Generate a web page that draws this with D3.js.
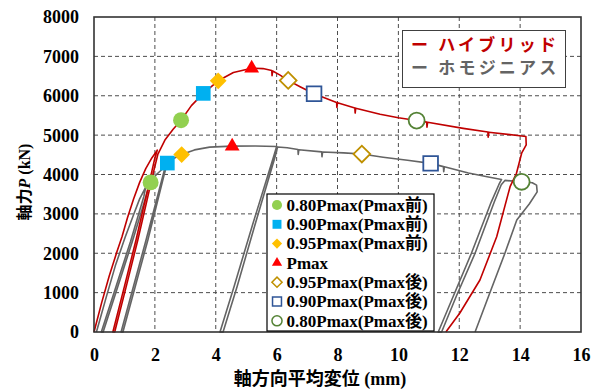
<!DOCTYPE html>
<html>
<head>
<meta charset="utf-8">
<script src="https://cdn.jsdelivr.net/npm/d3@7"></script>
<style>
  html, body { margin: 0; padding: 0; background: #fff; }
  svg { display: block; }
  .serif { font-family: "Liberation Serif", "Times New Roman", "DejaVu Serif", serif; font-weight: bold; }
  .gothic { font-family: "Noto Sans CJK JP", "Noto Sans", sans-serif; font-weight: bold; }
  .mixed { font-family: "Liberation Serif", "Noto Sans CJK JP", serif; font-weight: bold; }
</style>
</head>
<body>
<svg id="chart" width="595" height="390"></svg>
<script>
// Axial load P (kN) versus mean axial displacement (mm), including the
// unloading / reloading loops of each specimen.
const xTicks = [0, 2, 4, 6, 8, 10, 12, 14, 16];
const yTicks = [0, 1000, 2000, 3000, 4000, 5000, 6000, 7000, 8000];

const seriesNames = ["ハイブリッド", "ホモジニアス"];

// [displacement mm, load kN]
const hybridCurve = [
  [0, 0], [0.25, 740], [0.5, 1420], [0.75, 2030], [0.92, 2420], [1.1, 2900],
  [1.3, 3380], [1.5, 3800], [1.7, 4150], [1.9, 4420], [2.08, 4620],
  [2.0, 4420], [1.9, 4080], [1.38, 2336], [1.0, 1160], [0.62, 0],
  [0.68, 0], [1.06, 1160], [1.44, 2336], [1.96, 4080], [2.1, 4520],
  [2.33, 4875], [2.6, 5150], [2.86, 5380], [3.2, 5750], [3.59, 6060],
  [4.08, 6380], [4.58, 6590], [5.18, 6700], [5.55, 6690], [5.84, 6640],
  [5.85, 6510], [5.87, 6630], [6.1, 6530], [6.38, 6390], [6.77, 6230],
  [7.23, 6050], [7.97, 5830], [7.98, 5700], [8.0, 5825], [8.57, 5690],
  [8.58, 5560], [8.6, 5685], [9.4, 5530], [10.0, 5440], [10.6, 5370],
  [10.93, 5330], [10.94, 5200], [10.96, 5325], [12.13, 5172], [12.94, 5080],
  [12.95, 4950], [12.97, 5075], [13.99, 4985], [14.19, 4965], [14.2, 4750],
  [14.05, 4540], [13.88, 4030], [13.67, 3690], [13.23, 2420], [12.68, 1320],
  [12.02, 482], [11.56, 0]
];

const homoCurve = [
  [0.08, 0], [0.4, 880], [0.7, 1680], [1.02, 2400], [1.3, 2980], [1.5, 3380],
  [1.7, 3680], [1.64, 3450], [1.2, 2300], [0.7, 1100], [0.24, 0],
  [0.3, 0], [0.76, 1100], [1.26, 2300], [1.7, 3420], [1.8, 3680], [1.86, 3800],
  [2.05, 4000], [2.25, 4140], [2.36, 4230],
  [2.3, 4080], [1.71, 2336], [1.3, 1170], [0.89, 0],
  [0.95, 0], [1.36, 1170], [1.77, 2336], [2.3, 3980], [2.41, 4290], [2.6, 4400],
  [2.88, 4505], [3.3, 4625], [3.8, 4695], [4.54, 4720], [5.3, 4722], [6.0, 4712],
  [5.9, 4450], [5.2, 2700], [4.6, 1150], [4.3, 400], [4.14, 0],
  [4.24, 0], [4.4, 400], [4.7, 1150], [5.28, 2700], [5.95, 4450], [6.03, 4700],
  [6.35, 4680], [6.7, 4635], [6.71, 4510], [6.73, 4630], [7.48, 4575],
  [7.49, 4450], [7.51, 4570], [8.2, 4550], [8.8, 4520], [9.5, 4440],
  [10.3, 4360], [11.06, 4283], [11.48, 4200], [11.49, 4070], [11.51, 4195],
  [12.3, 4040], [13.0, 3930], [13.39, 3875],
  [13.3, 3740], [13.05, 3300], [12.4, 2000], [11.8, 900], [11.31, 0],
  [11.42, 0], [11.9, 900], [12.52, 2000], [13.15, 3300], [13.38, 3740],
  [13.5, 3850], [14.05, 3815], [14.4, 3790], [14.54, 3730], [14.56, 3560],
  [14.3, 3250], [13.89, 2844], [13.5, 2000], [13.0, 983], [12.52, 0]
];

const markerLabels = [
  "0.80Pmax(Pmax前)", "0.90Pmax(Pmax前)", "0.95Pmax(Pmax前)", "Pmax",
  "0.95Pmax(Pmax後)", "0.90Pmax(Pmax後)", "0.80Pmax(Pmax後)"
];
const hybridMarkerDisp = [2.86, 3.59, 4.08, 5.18, 6.38, 7.23, 10.6];
const hybridMarkerLoad = [5380, 6060, 6380, 6700, 6390, 6050, 5370];
const homoMarkerDisp = [1.86, 2.41, 2.88, 4.54, 8.8, 11.06, 14.05];
const homoMarkerLoad = [3800, 4290, 4505, 4715, 4520, 4283, 3815];

// ---------------------------------------------------------------------
const svg = d3.select("#chart");
const plot = { left: 94, right: 581, top: 17, bottom: 332 };

const x = d3.scaleLinear().domain([0, 16]).range([plot.left, plot.right]);
const y = d3.scaleLinear().domain([0, 8000]).range([plot.bottom, plot.top]);

// marker looks, in legend order
const markerStyles = [
  { shape: d3.symbolCircle,   size: 200, fill: "#92D050", stroke: "none",    rot: 0,  lsize: 80 },
  { shape: d3.symbolSquare,   size: 215, fill: "#00B0F0", stroke: "none",    rot: 0,  lsize: 80 },
  { shape: d3.symbolSquare,   size: 140, fill: "#FFC000", stroke: "none",    rot: 45, lsize: 52 },
  { shape: d3.symbolTriangle, size: 95,  fill: "#FF0000", stroke: "none",    rot: 0,  lsize: 45 },
  { shape: d3.symbolSquare,   size: 140, fill: "#FFFFFF", stroke: "#BF9000", rot: 45, lsize: 52 },
  { shape: d3.symbolSquare,   size: 215, fill: "#FFFFFF", stroke: "#2F5597", rot: 0,  lsize: 80 },
  { shape: d3.symbolCircle,   size: 200, fill: "#FFFFFF", stroke: "#548235", rot: 0,  lsize: 80 }
];

// grid
const grid = svg.append("g");
grid.selectAll("line.gx").data(xTicks.filter(t => t > 0 && t < 16)).join("line")
  .attr("x1", d => x(d)).attr("x2", d => x(d))
  .attr("y1", plot.top).attr("y2", plot.bottom)
  .attr("stroke", "#4d4d4d").attr("stroke-width", 1).attr("stroke-dasharray", "4,3");
grid.selectAll("line.gy").data(yTicks.filter(t => t > 0 && t < 8000)).join("line")
  .attr("x1", plot.left).attr("x2", plot.right)
  .attr("y1", d => y(d)).attr("y2", d => y(d))
  .attr("stroke", "#4d4d4d").attr("stroke-width", 1).attr("stroke-dasharray", "4,3");

// curves
const line = d3.line().x(d => x(d[0])).y(d => y(d[1]));
svg.append("path").datum(homoCurve).attr("d", line)
  .attr("fill", "none").attr("stroke", "#646464").attr("stroke-width", 1.6)
  .attr("stroke-linejoin", "round");
svg.append("path").datum(hybridCurve).attr("d", line)
  .attr("fill", "none").attr("stroke", "#C00000").attr("stroke-width", 1.6)
  .attr("stroke-linejoin", "round");

// characteristic points
function drawMarkers(disp, load) {
  const g = svg.append("g");
  disp.forEach((d, i) => {
    const s = markerStyles[i];
    g.append("path")
      .attr("d", d3.symbol().type(s.shape).size(s.size)())
      .attr("transform", `translate(${x(d)},${y(load[i])}) rotate(${s.rot})`)
      .attr("fill", s.fill)
      .attr("stroke", s.stroke)
      .attr("stroke-width", s.stroke === "none" ? 0 : 1.8);
  });
}
drawMarkers(homoMarkerDisp, homoMarkerLoad);
drawMarkers(hybridMarkerDisp, hybridMarkerLoad);

// frame
svg.append("rect")
  .attr("x", plot.left).attr("y", plot.top)
  .attr("width", plot.right - plot.left).attr("height", plot.bottom - plot.top)
  .attr("fill", "none").attr("stroke", "#333").attr("stroke-width", 1.6);

// axes (labels only)
const xAxis = d3.axisBottom(x).tickValues(xTicks).tickFormat(d3.format("d")).tickSize(0).tickPadding(0);
const gx = svg.append("g").attr("transform", `translate(0,${plot.bottom})`).call(xAxis)
  .attr("font-family", null).attr("font-size", null);
gx.select(".domain").remove();
gx.selectAll("text").attr("y", 29).attr("dy", 0).attr("class", "serif")
  .style("font-size", "18px").attr("fill", "#000");

const yAxis = d3.axisLeft(y).tickValues(yTicks).tickFormat(d3.format("d")).tickSize(0).tickPadding(0);
const gy = svg.append("g").attr("transform", `translate(${plot.left},0)`).call(yAxis)
  .attr("font-family", null).attr("font-size", null);
gy.select(".domain").remove();
gy.selectAll("text").attr("x", -15).attr("dy", "0.33em").attr("class", "serif")
  .style("font-size", "18px").attr("fill", "#000");

// axis titles
const xt = svg.append("text").attr("x", 320).attr("y", 385).attr("text-anchor", "middle")
  .style("font-size", "18px");
xt.append("tspan").attr("class", "gothic").text("軸方向平均変位");
xt.append("tspan").attr("class", "serif").text(" (mm)");

const yt = svg.append("text").attr("transform", "translate(30,182) rotate(-90)")
  .attr("text-anchor", "middle").style("font-size", "16px");
yt.append("tspan").attr("class", "gothic").text("軸力");
yt.append("tspan").attr("class", "serif").style("font-style", "italic").text("P");
yt.append("tspan").attr("class", "serif").text(" (kN)");

// series legend
const lg1 = svg.append("g");
lg1.append("rect").attr("x", 402.5).attr("y", 30.5).attr("width", 163).attr("height", 57)
  .attr("fill", "#fff").attr("stroke", "#404040").attr("stroke-width", 1);
const seriesColors = ["#C00000", "#646464"];
seriesNames.forEach((n, i) => {
  lg1.append("text").attr("x", 411).attr("y", 51 + i * 23.3).attr("class", "gothic")
    .style("font-size", "17px").style("letter-spacing", "3.2px")
    .attr("fill", seriesColors[i]).text("ー " + n);
});

// marker legend
const lg2 = svg.append("g");
lg2.append("rect").attr("x", 267).attr("y", 194).attr("width", 167).attr("height", 137)
  .attr("fill", "#fff").attr("stroke", "#000").attr("stroke-width", 1.2);
markerLabels.forEach((lab, i) => {
  const cy = 205 + i * 19.3;
  const s = markerStyles[i];
  lg2.append("path")
    .attr("d", d3.symbol().type(s.shape).size(s.lsize)())
    .attr("transform", `translate(277,${cy}) rotate(${s.rot})`)
    .attr("fill", s.fill).attr("stroke", s.stroke)
    .attr("stroke-width", s.stroke === "none" ? 0 : 1.5);
  lg2.append("text").attr("x", 286.5).attr("y", cy + 5.8).attr("class", "mixed")
    .style("font-size", "17px").attr("fill", "#000").text(lab);
});
</script>
</body>
</html>
